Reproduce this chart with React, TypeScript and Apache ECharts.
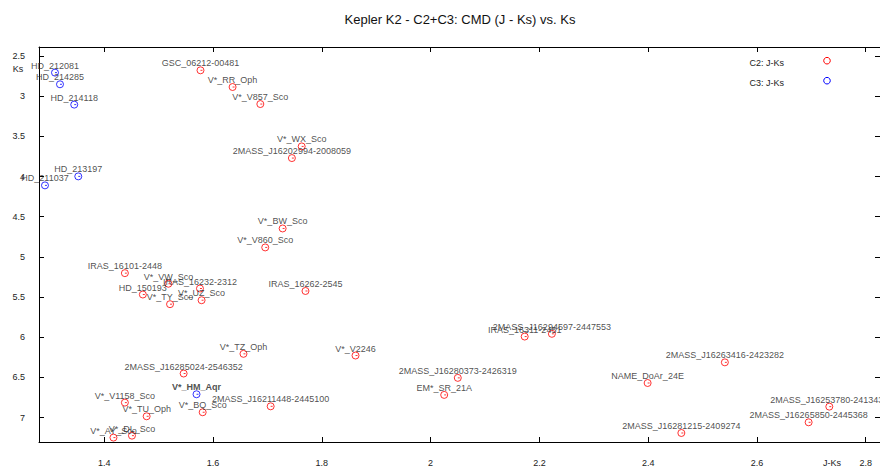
import React, { useEffect, useRef } from "react";
import * as echarts from "echarts";

// C2 campaign targets (red)
const c2Names = [
  "GSC_06212-00481", "V*_RR_Oph", "V*_V857_Sco", "V*_WX_Sco", "2MASS_J16202994-2008059",
  "V*_BW_Sco", "V*_V860_Sco", "IRAS_16101-2448", "V*_VW_Sco", "IRAS_16232-2312",
  "HD_150193", "V*_UZ_Sco", "V*_TY_Sco", "IRAS_16262-2545", "V*_TZ_Oph",
  "2MASS_J16285024-2546352", "V*_V1158_Sco", "V*_TU_Oph", "V*_BQ_Sco", "2MASS_J16211448-2445100",
  "V*_AY_Sco", "V*_DL_Sco", "V*_V2246", "2MASS_J16280373-2426319", "EM*_SR_21A",
  "IRAS_16311-2451", "2MASS_J16294597-2447553", "2MASS_J16263416-2423282", "NAME_DoAr_24E",
  "2MASS_J16253780-2413430", "2MASS_J16265850-2445368", "2MASS_J16281215-2409274",
];
const c2JKs = [
  1.577, 1.636, 1.687, 1.763, 1.745,
  1.728, 1.696, 1.438, 1.518, 1.576,
  1.471, 1.579, 1.521, 1.770, 1.656,
  1.546, 1.438, 1.478, 1.581, 1.706,
  1.417, 1.451, 1.862, 2.050, 2.025,
  2.173, 2.223, 2.541, 2.399,
  2.733, 2.695, 2.461,
];
const c2Ks = [
  2.678, 2.886, 3.098, 3.625, 3.770,
  4.646, 4.882, 5.202, 5.334, 5.393,
  5.468, 5.539, 5.588, 5.424, 6.206,
  6.451, 6.813, 6.983, 6.933, 6.859,
  7.248, 7.224, 6.227, 6.505, 6.717,
  5.991, 5.957, 6.312, 6.569,
  6.863, 7.058, 7.191,
];

// C3 campaign targets (blue)
const c3Names = ["HD_212081", "HD_214285", "HD_214118", "HD_213197", "HD_211037", "V*_HM_Aqr"];
const c3JKs = [1.3095, 1.3187, 1.3449, 1.3523, 1.2911, 1.5697];
const c3Ks = [2.707, 2.852, 3.105, 3.998, 4.110, 6.709];

const xTicks = [1.4, 1.6, 1.8, 2.0, 2.2, 2.4, 2.6, 2.8];
const yTicks = [2.5, 3, 3.5, 4, 4.5, 5, 5.5, 6, 6.5, 7];
const boldNames = ["V*_HM_Aqr"];

const FONT = "'Liberation Sans', Arial, Helvetica, sans-serif";
const RED = "#ff0000";
const BLUE = "#0000ff";
const SYMBOL = "path://M0,-3.5A3.5,3.5,0,1,1,0,3.5A3.5,3.5,0,1,1,0,-3.5ZM0,0L2,0";

function buildData(names: string[], xs: number[], ys: number[]) {
  return names.map((n, i) => ({
    name: n,
    value: [xs[i], ys[i]],
    label: { fontWeight: boldNames.includes(n) ? "bold" : "normal" },
  }));
}

function scatterSeries(name: string, color: string, data: any[], xi: number, yi: number) {
  return {
    type: "scatter",
    name,
    xAxisIndex: xi,
    yAxisIndex: yi,
    data,
    symbol: SYMBOL,
    symbolSize: 7,
    itemStyle: { color: "rgba(0,0,0,0)", borderColor: color, borderWidth: 1 },
    label: {
      show: true,
      position: "inside",
      offset: [0, -7],
      formatter: (p: any) => p.name,
      fontFamily: FONT,
      fontSize: 9,
      color: "#222",
      textBorderWidth: 0,
    },
    emphasis: { disabled: true },
  };
}

export default function App() {
  const ref = useRef<HTMLDivElement>(null);
  useEffect(() => {
    if (!ref.current) return;
    const chart = echarts.init(ref.current, null, { renderer: "svg" });
    const xMin = 1.2801;
    const xMax = 2.8262;
    const yMin = 2.388;
    const yMax = 7.303;
    const axisLine = { show: true, onZero: false, lineStyle: { color: "#000", width: 1 } };
    const tick = { show: true, inside: true, length: 5, lineStyle: { color: "#000" } };
    chart.setOption({
      animation: false,
      backgroundColor: "#fff",
      grid: { left: 39, top: 47, right: -1, bottom: 25, containLabel: false },
      xAxis: [
        {
          type: "value", position: "bottom", min: xMin, max: xMax,
          axisLine, axisTick: { ...tick, customValues: xTicks },
          axisLabel: {
            customValues: xTicks, margin: 16, fontSize: 9, fontFamily: FONT, color: "#222",
            formatter: (v: number) => String(Math.round(v * 10) / 10),
          },
          splitLine: { show: false },
        },
        {
          type: "value", position: "top", min: xMin, max: xMax,
          axisLine, axisTick: { ...tick, customValues: xTicks },
          axisLabel: { show: false }, splitLine: { show: false },
        },
      ],
      yAxis: [
        {
          type: "value", position: "left", inverse: true, min: yMin, max: yMax,
          axisLine, axisTick: { ...tick, customValues: yTicks },
          axisLabel: {
            customValues: yTicks, margin: 14, fontSize: 9, fontFamily: FONT, color: "#222",
            formatter: (v: number) => String(v),
          },
          splitLine: { show: false },
        },
        {
          type: "value", position: "right", inverse: true, min: yMin, max: yMax,
          axisLine, axisTick: { ...tick, customValues: yTicks },
          axisLabel: { show: false }, splitLine: { show: false },
        },
      ],
      series: [
        scatterSeries("C2: J-Ks", RED, buildData(c2Names, c2JKs, c2Ks), 0, 0),
        scatterSeries("C3: J-Ks", BLUE, buildData(c3Names, c3JKs, c3Ks), 0, 0),
      ],
      graphic: [
        {
          type: "text", x: 460, y: 19,
          style: { text: "Kepler K2 - C2+C3: CMD (J - Ks) vs. Ks", fontSize: 13, fontFamily: FONT, fill: "#111", align: "center", verticalAlign: "middle" },
        },
        {
          type: "text", x: 18, y: 69,
          style: { text: "Ks", fontSize: 9, fontFamily: FONT, fill: "#222", align: "center", verticalAlign: "middle" },
        },
        {
          type: "text", x: 832, y: 462.7,
          style: { text: "J-Ks", fontSize: 9, fontFamily: FONT, fill: "#222", align: "center", verticalAlign: "middle" },
        },
        {
          type: "text", x: 784, y: 62.7,
          style: { text: "C2: J-Ks", fontSize: 9, fontFamily: FONT, fill: "#222", align: "right", verticalAlign: "middle" },
        },
        {
          type: "circle", shape: { cx: 827, cy: 60.7, r: 3.3 },
          style: { fill: "none", stroke: RED, lineWidth: 1 },
        },
        {
          type: "text", x: 784, y: 82.7,
          style: { text: "C3: J-Ks", fontSize: 9, fontFamily: FONT, fill: "#222", align: "right", verticalAlign: "middle" },
        },
        {
          type: "circle", shape: { cx: 827, cy: 80.7, r: 3.3 },
          style: { fill: "none", stroke: BLUE, lineWidth: 1 },
        },
      ],
    });
    return () => chart.dispose();
  }, []);
  return (
    <div
      ref={ref}
      style={{ position: "fixed", left: 0, top: 0, width: 880, height: 467, background: "#fff" }}
    />
  );
}
